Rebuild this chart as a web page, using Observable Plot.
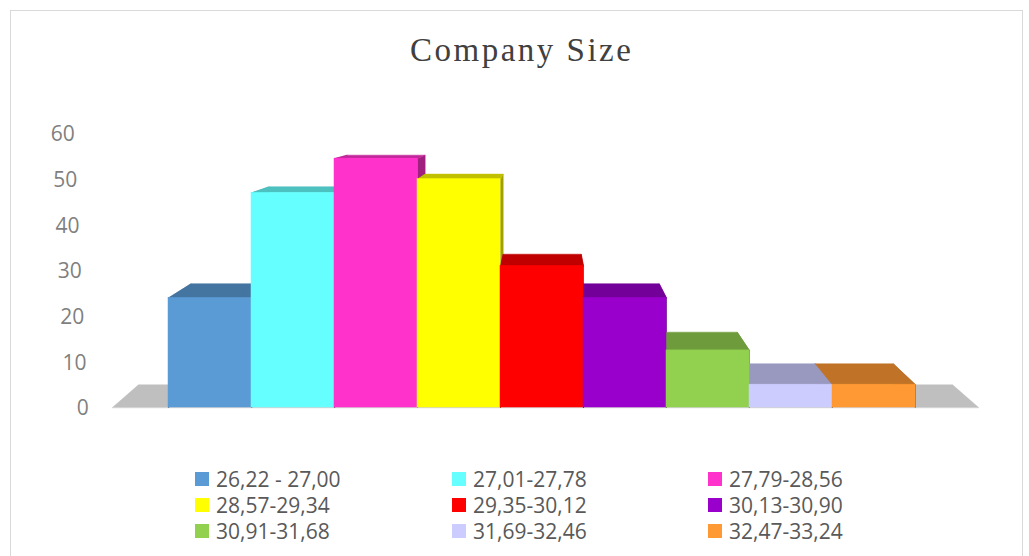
<!DOCTYPE html>
<html>
<head>
<meta charset="utf-8">
<script src="https://cdn.jsdelivr.net/npm/d3@7"></script>
<script src="https://cdn.jsdelivr.net/npm/@observablehq/plot@0.6"></script>
<style>
  html, body { margin: 0; padding: 0; background: #fff; overflow: hidden; }
  #frame { position: absolute; left: 10px; top: 10px; width: 1013px; height: 560px; border: 1px solid #d9d9d9; box-sizing: border-box; }
  #title { position: absolute; left: 410px; top: 32px; font-family: "Liberation Serif", "DejaVu Serif", serif; font-size: 33px; line-height: 36px; letter-spacing: 2.5px; color: #404040; white-space: nowrap; }
  #chart { position: absolute; left: 0; top: 80px; }
  #legend { position: absolute; left: 0; top: 466px; width: 1029px; }
  .item { position: absolute; display: flex; align-items: center; height: 26px; font-family: "Open Sans", sans-serif; font-size: 21px; color: #595959; white-space: nowrap; }
  .sw { width: 14px; height: 14px; margin-right: 7px; }
</style>
</head>
<body>
<div id="frame"></div>
<div id="title">Company Size</div>
<div id="chart"></div>
<div id="legend"></div>
<script>
// ---- data ----
const categories = ["26,22 - 27,00", "27,01-27,78", "27,79-28,56", "28,57-29,34", "29,35-30,12", "30,13-30,90", "30,91-31,68", "31,69-32,46", "32,47-33,24"];
const counts = [24, 47, 54.5, 50, 31, 24, 12.5, 5, 5];
const colors = ["#5B9BD5", "#66FFFF", "#FF33CC", "#FFFF00", "#FF0000", "#9900CC", "#92D050", "#CCCCFF", "#FF9933"];
const yTicks = [0, 10, 20, 30, 40, 50, 60];

// ---- 3D projection helpers (in data units) ----
const kx = 0.94, cx = 4.54;     // horizontal convergence toward centre
const ky = 0.923, cy = 64.4;    // vertical convergence
const backX = x => cx + (x - cx) * kx;
const backY = y => cy + (y - cy) * ky;
const floorColor = "#BFBFBF";
const floorLeft = -0.675, floorRight = 9.76;

const bars = counts.map((v, i) => ({i, v, cat: categories[i], color: colors[i]}));

function poly(id, color, pts) {
  return pts.map(([x, y]) => ({id, color, x, y}));
}

const floorPts = poly("floor", floorColor, [
  [floorLeft, 0], [backX(floorLeft), backY(0)], [backX(floorRight), backY(0)], [floorRight, 0]
]);

const sidePts = bars.flatMap(b => {
  const c = d3.color(b.color).darker(1.3).formatHex();
  return [
    ...poly("L" + b.i, c, [[b.i, 0], [b.i, b.v], [backX(b.i), backY(b.v)], [backX(b.i), backY(0)]]),
    ...poly("R" + b.i, c, [[b.i + 1, 0], [b.i + 1, b.v], [backX(b.i + 1), backY(b.v)], [backX(b.i + 1), backY(0)]])
  ];
});

const topPts = bars.flatMap(b => {
  const c = d3.color(b.color).darker(0.8).formatHex();
  return poly("T" + b.i, c, [[b.i, b.v], [backX(b.i), backY(b.v)], [backX(b.i + 1), backY(b.v)], [b.i + 1, b.v]]);
});

const polyMark = data => Plot.line(data, {x: "x", y: "y", z: "id", fill: "color", stroke: "color", strokeWidth: 0.5, curve: "linear-closed"});

const plot = Plot.plot({
  width: 1029,
  height: 370,
  marginLeft: 168,
  marginRight: 114,
  marginTop: 53,
  marginBottom: 43,
  x: {type: "linear", domain: [0, 9], axis: null},
  y: {domain: [0, 60], axis: null},
  marks: [
    polyMark(floorPts),
    polyMark(sidePts),
    polyMark(topPts),
    Plot.rect(bars, {x1: "i", x2: d => d.i + 1, y1: 0, y2: "v", fill: "color", stroke: "color", strokeWidth: 0.5}),
    Plot.text(yTicks, {x: v => -0.96 - 0.0028 * v, y: v => v, text: v => String(v), textAnchor: "end", fill: "#7f7f7f", fontSize: 21, fontFamily: "Open Sans", dy: 1})
  ]
});
document.getElementById("chart").appendChild(plot);

// ---- legend ----
const legend = document.getElementById("legend");
const colX = [195, 452, 708];
categories.forEach((cat, i) => {
  const item = document.createElement("div");
  item.className = "item";
  item.style.left = colX[i % 3] + "px";
  item.style.top = (Math.floor(i / 3) * 26) + "px";
  const sw = document.createElement("span");
  sw.className = "sw";
  sw.style.background = colors[i];
  const t = document.createElement("span");
  t.textContent = cat;
  item.appendChild(sw);
  item.appendChild(t);
  legend.appendChild(item);
});
</script>
</body>
</html>
